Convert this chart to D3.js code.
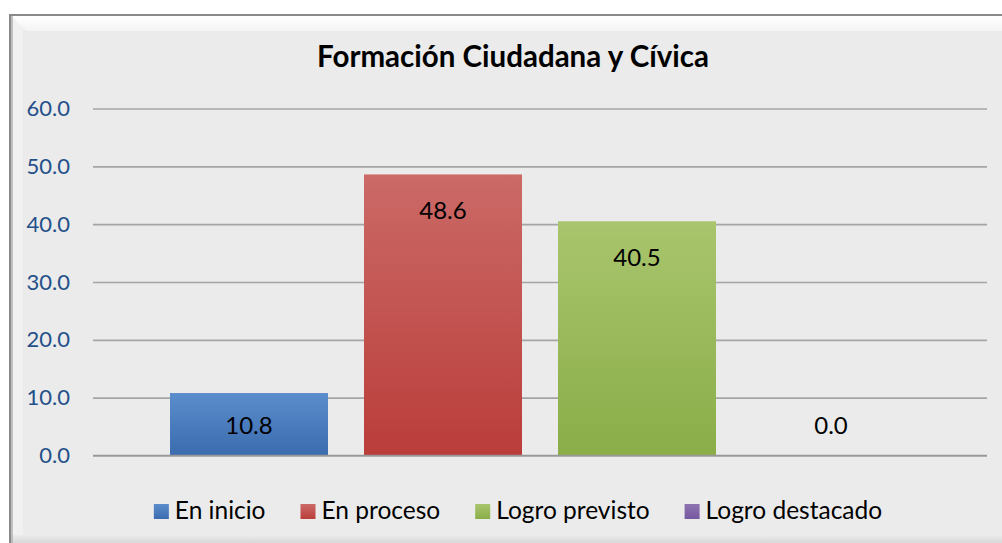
<!DOCTYPE html>
<html>
<head>
<meta charset="utf-8">
<script src="https://cdn.jsdelivr.net/npm/d3@7"></script>
<style>
  body { margin: 0; background: #fff; }
  svg { display: block; }
</style>
</head>
<body>
<div id="chart"></div>
<script>
// data
var series = ["En inicio", "En proceso", "Logro previsto", "Logro destacado"];
var values = [10.8, 48.6, 40.5, 0.0];
var yTicks = [0, 10, 20, 30, 40, 50, 60];
var colorsTop = ["#5b8ccb", "#cb6a67", "#a9c56d", "#8e74b0"];
var colorsBottom = ["#3b6cae", "#ba3d3a", "#8aad48", "#7658a0"];

var svgWidth = 1002;
var svgHeight = 543;

var margin = { top: 108.5, right: 15, bottom: 87.5, left: 93 };
var width = svgWidth - margin.left - margin.right;
var height = svgHeight - margin.top - margin.bottom;

var svg = d3.select("#chart")
  .append("svg")
  .attr("width", svgWidth)
  .attr("height", svgHeight)
  .style("font-family", "Lato, 'Open Sans', sans-serif");

var defs = svg.append("defs");

// bar gradients
series.forEach(function(s, i) {
  var g = defs.append("linearGradient")
    .attr("id", "grad" + i)
    .attr("x1", 0).attr("y1", 0).attr("x2", 0).attr("y2", 1);
  g.append("stop").attr("offset", "0%").attr("stop-color", colorsTop[i]);
  g.append("stop").attr("offset", "100%").attr("stop-color", colorsBottom[i]);
});

// frame bevel gradients
var topBevel = defs.append("linearGradient")
  .attr("id", "topBevel").attr("x1", 0).attr("y1", 0).attr("x2", 0).attr("y2", 1);
topBevel.append("stop").attr("offset", "0%").attr("stop-color", "#ffffff");
topBevel.append("stop").attr("offset", "100%").attr("stop-color", "#f4f4f4");

var bottomBevel = defs.append("linearGradient")
  .attr("id", "bottomBevel").attr("x1", 0).attr("y1", 0).attr("x2", 0).attr("y2", 1);
bottomBevel.append("stop").attr("offset", "0%").attr("stop-color", "#ebebeb");
bottomBevel.append("stop").attr("offset", "100%").attr("stop-color", "#d8d8d8");

// outer frame
svg.append("rect")
  .attr("x", 10).attr("y", 15)
  .attr("width", svgWidth + 10).attr("height", svgHeight)
  .attr("fill", "#ebebeb")
  .attr("stroke", "#8a8a8a")
  .attr("stroke-width", 2);

svg.append("rect")
  .attr("x", 11).attr("y", 16)
  .attr("width", 12).attr("height", svgHeight)
  .attr("fill", "#f1f1f1");

svg.append("path")
  .attr("d", "M11,16 L1002,16 L1002,31 L26,31 Z")
  .attr("fill", "url(#topBevel)");

svg.append("rect")
  .attr("x", 11).attr("y", 535)
  .attr("width", svgWidth).attr("height", 8)
  .attr("fill", "url(#bottomBevel)");

svg.append("line")
  .attr("x1", 12).attr("x2", 12)
  .attr("y1", 16).attr("y2", svgHeight)
  .attr("stroke", "#b0b0b0")
  .attr("stroke-width", 1.5);

var chartGroup = svg.append("g")
  .attr("transform", `translate(${margin.left}, ${margin.top})`);

// scales
var yScale = d3.scaleLinear()
  .domain([0, 60])
  .range([height, 0]);

var xScale = d3.scaleBand()
  .domain(series)
  .range([77, width - 77])
  .paddingInner(36 / 194)
  .paddingOuter(0);

// gridlines via axis
var grid = d3.axisLeft(yScale)
  .tickValues(yTicks)
  .tickSize(-width)
  .tickFormat("");

chartGroup.append("g")
  .call(grid)
  .call(g => g.select(".domain").remove())
  .selectAll("line")
  .attr("stroke", "#a5a5a5")
  .attr("stroke-width", 1.6);

// y axis labels
var leftAxis = d3.axisLeft(yScale)
  .tickValues(yTicks)
  .tickSize(0)
  .tickPadding(23)
  .tickFormat(d3.format(".1f"));

chartGroup.append("g")
  .call(leftAxis)
  .call(g => g.select(".domain").remove())
  .selectAll("text")
  .attr("fill", "#24508a")
  .style("font-size", "22px")
  .style("font-family", "Lato, 'Open Sans', sans-serif");

// bars
chartGroup.selectAll(".bar")
  .data(values)
  .enter()
  .append("rect")
  .attr("class", "bar")
  .attr("x", (d, i) => xScale(series[i]))
  .attr("y", d => yScale(d))
  .attr("width", xScale.bandwidth())
  .attr("height", d => height - yScale(d))
  .attr("fill", (d, i) => "url(#grad" + i + ")");

// baseline over bars
chartGroup.append("line")
  .attr("x1", 0).attr("x2", width)
  .attr("y1", yScale(0)).attr("y2", yScale(0))
  .attr("stroke", "#989898")
  .attr("stroke-width", 1.6);

// data labels
chartGroup.selectAll(".label")
  .data(values)
  .enter()
  .append("text")
  .attr("class", "label")
  .attr("x", (d, i) => xScale(series[i]) + xScale.bandwidth() / 2)
  .attr("y", d => Math.min(yScale(d) + 36, height - 30))
  .attr("dy", "0.35em")
  .attr("text-anchor", "middle")
  .attr("fill", "#000")
  .style("font-size", "24px")
  .text(d => d3.format(".1f")(d));

// title
svg.append("text")
  .attr("x", 513)
  .attr("y", 67)
  .attr("text-anchor", "middle")
  .attr("fill", "#000")
  .style("font-size", "29.5px")
  .style("font-weight", "bold")
  .text("Formación Ciudadana y Cívica");

// legend
var legend = svg.append("g");
var xPos = 0;
series.forEach(function(s, i) {
  var item = legend.append("g").attr("transform", `translate(${xPos}, 0)`);
  item.append("rect")
    .attr("x", 0).attr("y", 504)
    .attr("width", 15).attr("height", 15)
    .attr("fill", "url(#grad" + i + ")");
  var t = item.append("text")
    .attr("x", 21).attr("y", 519)
    .attr("fill", "#000")
    .style("font-size", "24.5px")
    .text(s);
  xPos += 21 + t.node().getComputedTextLength() + 35;
});
var legendWidth = xPos - 35;
legend.attr("transform", `translate(${518 - legendWidth / 2}, 0)`);
</script>
</body>
</html>
